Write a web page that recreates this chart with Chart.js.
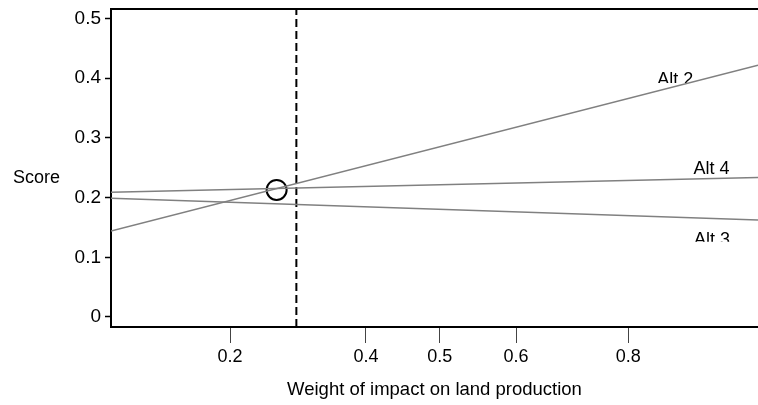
<!DOCTYPE html>
<html><head><meta charset="utf-8">
<script src="https://cdn.jsdelivr.net/npm/chart.js@4.4.0/dist/chart.umd.min.js"></script>
<style>html,body{margin:0;padding:0;background:#fff;overflow:hidden}</style>
</head><body>
<canvas id="c" width="758" height="405"></canvas>
<script>
// ---- data ----
const seriesNames = ['Alt 2', 'Alt 4', 'Alt 3'];
const lineX = [0, 1];                 // start / end of each line (axis fraction)
const alt2 = [0.144, 0.422];
const alt4 = [0.209, 0.2335];
const alt3 = [0.199, 0.1625];
const yMin = -0.0168, yMax = 0.516;
const yTickValues = [0, 0.1, 0.2, 0.3, 0.4, 0.5];
const yTickLabels = ['0', '0.1', '0.2', '0.3', '0.4', '0.5'];
const xTickValues = [0.184, 0.394, 0.508, 0.626, 0.7995];
const xTickLabels = ['0.2', '0.4', '0.5', '0.6', '0.8'];
const refX = 0.2865;                  // dashed reference line
const markerX = [0.256], markerY = [0.2128];
const labelX = [0.872, 0.928, 0.929];
const labelY = [0.3895, 0.2395, 0.1211];
const xTitle = 'Weight of impact on land production';
const yTitle = 'Score';

const FONT = 'Liberation Sans, Arial, Helvetica, sans-serif';
const labelClip = [1.5, 0, 3];

const textPlugin = {
  id: 'extras',
  afterDraw(chart) {
    const {ctx, chartArea: ca, scales} = chart;
    ctx.save();
    ctx.strokeStyle = '#000';
    ctx.lineWidth = 2;
    ctx.beginPath();
    ctx.moveTo(ca.left - 1, ca.top);
    ctx.lineTo(ca.right, ca.top);
    ctx.stroke();
    ctx.fillStyle = '#000';
    ctx.font = '18px ' + FONT;
    ctx.textAlign = 'left';
    ctx.textBaseline = 'alphabetic';
    ctx.fillText(yTitle, 13, 183);
    ctx.textAlign = 'center';
    seriesNames.forEach((n, i) => {
      const px = scales.x.getPixelForValue(labelX[i]);
      const py = scales.y.getPixelForValue(labelY[i]);
      ctx.save();
      ctx.beginPath();
      ctx.rect(px - 40, py - 30, 80, labelClip[i] === 0 ? 40 : 30 - labelClip[i]);
      ctx.clip();
      ctx.fillText(n, px, py);
      ctx.restore();
    });
    ctx.restore();
  }
};

const lineStyle = {type: 'line', borderColor: '#808080', borderWidth: 1.5, pointRadius: 0, fill: false, tension: 0};

new Chart(document.getElementById('c'), {
  type: 'scatter',
  data: {
    datasets: [
      Object.assign({label: seriesNames[0], data: lineX.map((x, i) => ({x, y: alt2[i]}))}, lineStyle),
      Object.assign({label: seriesNames[1], data: lineX.map((x, i) => ({x, y: alt4[i]}))}, lineStyle),
      Object.assign({label: seriesNames[2], data: lineX.map((x, i) => ({x, y: alt3[i]}))}, lineStyle),
      {type: 'line', label: 'ref', data: [{x: refX, y: yMin}, {x: refX, y: yMax}],
       borderColor: '#000', borderWidth: 2, borderDash: [8, 4], pointRadius: 0, fill: false},
      {type: 'scatter', label: 'marker', data: markerX.map((x, i) => ({x, y: markerY[i]})),
       pointRadius: 10, pointHoverRadius: 10, borderColor: '#000', borderWidth: 2, backgroundColor: 'rgba(0,0,0,0)'}
    ]
  },
  options: {
    responsive: false,
    devicePixelRatio: 1,
    animation: false,
    layout: {autoPadding: false, padding: {top: 9, left: 0, right: 0, bottom: 0}},
    plugins: {legend: {display: false}, tooltip: {enabled: false}},
    scales: {
      x: {
        type: 'linear', min: 0, max: 1,
        afterBuildTicks: s => { s.ticks = xTickValues.map(v => ({value: v})); },
        afterFit: s => { s.height = 78; s.paddingLeft = 0; s.paddingRight = 0; },
        ticks: {callback: (v, i) => xTickLabels[i], font: {size: 18, family: FONT}, color: '#000',
                padding: 3, maxRotation: 0, autoSkip: false},
        grid: {drawOnChartArea: false, drawTicks: true, tickLength: 16, tickColor: '#444', tickWidth: 1},
        border: {color: '#000', width: 2},
        title: {display: true, text: xTitle, font: {size: 18.5, family: FONT}, color: '#000', padding: {top: 0, bottom: 4}}
      },
      y: {
        type: 'linear', min: yMin, max: yMax,
        afterBuildTicks: s => { s.ticks = yTickValues.map(v => ({value: v})); },
        afterFit: s => { s.width = 111; s.paddingTop = 0; s.paddingBottom = 0; },
        ticks: {callback: (v, i) => yTickLabels[i], font: {size: 19, family: FONT}, color: '#000', padding: 4},
        grid: {drawOnChartArea: false, drawTicks: true, tickLength: 6, tickColor: '#000', tickWidth: 1.5},
        border: {color: '#000', width: 2}
      }
    }
  },
  plugins: [textPlugin]
});
</script>
</body></html>
